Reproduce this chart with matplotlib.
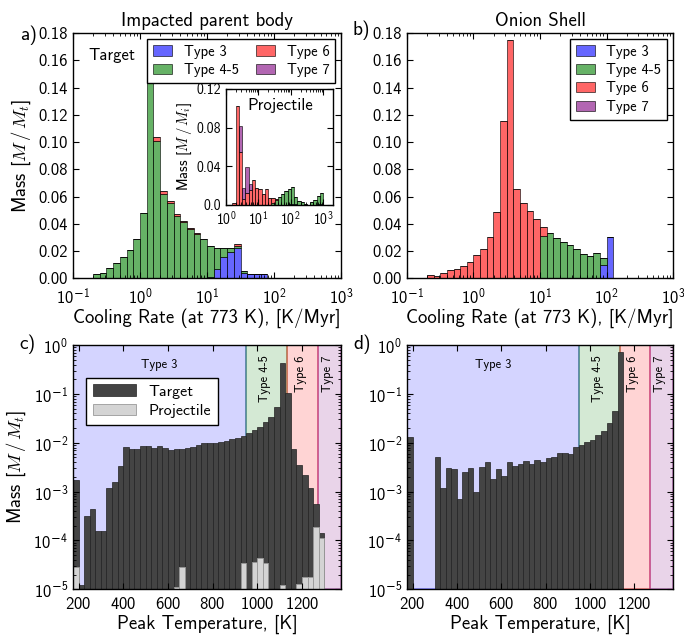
import numpy as np
import matplotlib
matplotlib.use('Agg')
import matplotlib.pyplot as plt
from matplotlib.ticker import LogLocator, NullFormatter, FuncFormatter

plt.rcParams['font.family'] = 'cmss10'
plt.rcParams['mathtext.fontset'] = 'custom'
plt.rcParams['mathtext.rm'] = 'cmss10'
plt.rcParams['mathtext.sf'] = 'DejaVu Sans'
plt.rcParams['mathtext.it'] = 'cmmi10'
plt.rcParams['mathtext.bf'] = 'cmb10'
plt.rcParams['axes.formatter.use_mathtext'] = True
plt.rcParams['xtick.direction'] = 'in'
plt.rcParams['ytick.direction'] = 'in'
plt.rcParams['xtick.top'] = True
plt.rcParams['ytick.right'] = True
plt.rcParams['xtick.major.size'] = 4
plt.rcParams['ytick.major.size'] = 4
plt.rcParams['xtick.minor.size'] = 2
plt.rcParams['ytick.minor.size'] = 2
plt.rcParams['axes.linewidth'] = 1.0

# --- Daten: Abkuehlraten (log10 Bin-Start, Breite 0.1 dex) ---
rate_bins = [-1.0, -0.9, -0.8, -0.7, -0.6, -0.5, -0.4, -0.3, -0.2, -0.1,
             0.0, 0.1, 0.2, 0.3, 0.4, 0.5, 0.6, 0.7, 0.8, 0.9,
             1.0, 1.1, 1.2, 1.3, 1.4, 1.5, 1.6, 1.7, 1.8, 1.9, 2.0]

# a) Impacted parent body, Target
a_type3 = [0, 0, 0, 0, 0, 0, 0, 0, 0, 0,
           0, 0, 0, 0, 0, 0, 0, 0, 0, 0,
           0.001, 0.0065, 0.0155, 0.019, 0.022, 0.004, 0.003, 0.003, 0.003, 0, 0]
a_type45 = [0, 0, 0, 0.003, 0.0042, 0.0075, 0.011, 0.0155, 0.021, 0.029,
            0.048, 0.147, 0.101, 0.062, 0.055, 0.046, 0.041, 0.036, 0.0325, 0.0285,
            0.0225, 0.0155, 0.0065, 0.003, 0.002, 0.001, 0, 0, 0, 0, 0]
a_type6 = [0, 0, 0, 0, 0, 0, 0, 0, 0, 0,
           0, 0.006, 0.003, 0.002, 0.0015, 0.0015, 0.001, 0.001, 0.0008, 0.0005,
           0, 0, 0, 0, 0.001, 0, 0, 0, 0, 0, 0]
a_type7 = [0] * 31

# b) Onion shell
b_type3 = [0] * 29 + [0.0097, 0.0306]
b_type45 = [0] * 20 + [0.031, 0.0333, 0.0294, 0.0265, 0.0245, 0.0215, 0.0176,
                       0.0167, 0.0189, 0.0055, 0]
b_type6 = [0, 0, 0, 0.0025, 0.0015, 0.0037, 0.0062, 0.0068, 0.0092, 0.012,
           0.017, 0.0218, 0.0305, 0.0485, 0.1155, 0.1748, 0.0656, 0.0556, 0.0495, 0.0435,
           0.007, 0, 0, 0, 0, 0, 0, 0, 0, 0, 0]
b_type7 = [0] * 31

# Inset: Projektil (log10 Bin-Start 0.0 .. 2.9)
in_bins = [0.0, 0.1, 0.2, 0.3, 0.4, 0.5, 0.6, 0.7, 0.8, 0.9,
           1.0, 1.1, 1.2, 1.3, 1.4, 1.5, 1.6, 1.7, 1.8, 1.9,
           2.0, 2.1, 2.2, 2.3, 2.4, 2.5, 2.6, 2.7, 2.8, 2.9]
in_type3 = [0] * 19 + [0.001, 0.0015, 0.001, 0, 0, 0, 0, 0, 0, 0.001, 0.001]
in_type45 = [0] * 14 + [0.002, 0.005, 0.008, 0.011, 0.014, 0.016, 0.0175, 0.007,
                        0.004, 0.003, 0.001, 0, 0.003, 0.005, 0.008, 0.011]
in_type6 = [0, 0, 0.002, 0.102, 0.055, 0.006, 0.012, 0.016, 0.026, 0.018,
            0.017, 0.011, 0.017, 0.007, 0.005, 0.001] + [0] * 14
in_type7 = [0, 0, 0, 0, 0.027, 0.012, 0.027, 0.006] + [0] * 22

# --- Daten: Peak-Temperatur (Bin-Start in K, Breite 25 K) ---
temp_bins = [175 + 25 * i for i in range(48)]
c_target = [1.7e-3, 1.2e-5, 3.2e-4, 4.5e-4, 1.55e-4, 1.55e-4, 1.2e-3, 1.55e-3, 3.3e-3, 8.2e-3,
            7.3e-3, 7.6e-3, 8.6e-3, 8.4e-3, 7.9e-3, 8.4e-3, 7.8e-3, 7.1e-3, 7.4e-3, 7.6e-3,
            7.9e-3, 8.2e-3, 8.9e-3, 1.0e-2, 1.0e-2, 9.8e-3, 1.03e-2, 1.1e-2, 1.2e-2, 1.25e-2,
            1.38e-2, 1.6e-2, 1.85e-2, 2.1e-2, 2.65e-2, 3.4e-2, 5.3e-2, 0.42, 0.107, 7.6e-3,
            3.5e-3, 2.2e-3, 1.2e-3, 5.6e-4, 1.4e-4, 0, 0, 0]
c_proj = [2.9e-5, 0, 0, 0, 0, 0, 0, 0, 0, 0,
          0, 0, 0, 0, 0, 0, 0, 0, 1.1e-5, 2.8e-5,
          0, 0, 0, 0, 0, 0, 0, 0, 0, 0,
          3.4e-5, 0, 3.7e-5, 4.3e-5, 3.5e-5, 0, 0, 1.25e-5, 0, 0,
          1.3e-5, 1.8e-5, 1.8e-5, 1.9e-4, 1.15e-4, 0, 0, 0]
d_target = [1.3e-2, 0, 0, 0, 0, 5.2e-3, 1.2e-3, 3.0e-3, 2.9e-3, 7.2e-4,
            2.5e-3, 3.0e-3, 9.7e-4, 3.2e-3, 4.1e-3, 1.8e-3, 2.9e-3, 2.1e-3, 4.0e-3, 3.3e-3,
            3.6e-3, 4.3e-3, 3.7e-3, 4.4e-3, 4.1e-3, 4.8e-3, 5.1e-3, 6.1e-3, 6.3e-3, 5.9e-3,
            8.2e-3, 9.0e-3, 1.05e-2, 1.15e-2, 1.45e-2, 1.75e-2, 2.5e-2, 4.4e-2, 0.73, 0,
            0, 0, 0, 0, 0, 0, 0, 0]

type_names = ['Type 3', 'Type 4-5', 'Type 6', 'Type 7']
type_colors = ['b', 'g', 'r', 'purple']
type_edges = [175, 950, 1135, 1270, 1375]


def pow10(v, pos):
    # Zehnerpotenz, Minuszeichen aus DejaVu (cmss10 hat keins)
    e = int(round(np.log10(v)))
    if e < 0:
        return r'$10^{\mathsf{-}%d}$' % (-e)
    return r'$10^{%d}$' % e


def stacked_hist(ax, logbins, parts, labels=True):
    left = 10 ** np.array(logbins)
    width = 10 ** (np.array(logbins) + 0.1) - left
    bottom = np.zeros(len(logbins))
    for vals, c, name in zip(parts, type_colors, type_names):
        vals = np.array(vals, dtype=float)
        ax.bar(left, vals, width=width, bottom=bottom, align='edge', color=c,
               alpha=0.6, edgecolor='k', linewidth=0.7,
               label=name if labels else None)
        bottom += vals


def log_ticks(axis):
    axis.set_major_locator(LogLocator(base=10, numticks=10))
    axis.set_major_formatter(FuncFormatter(pow10))
    axis.set_minor_locator(LogLocator(base=10, subs=np.arange(2, 10), numticks=20))
    axis.set_minor_formatter(NullFormatter())


def rate_axes(ax):
    ax.set_xscale('log')
    ax.set_xlim(0.1, 1000)
    ax.set_ylim(0, 0.18)
    ax.set_yticks(np.arange(0, 0.181, 0.02))
    ax.set_yticklabels(['%.2f' % v for v in np.arange(0, 0.181, 0.02)])
    log_ticks(ax.xaxis)
    ax.tick_params(labelsize=12)
    ax.tick_params(axis='x', pad=6)
    ax.set_xlabel('Cooling Rate (at 773 K), [K/Myr]', fontsize=13.5, labelpad=1)


def temp_axes(ax, target, proj=None):
    for lo, hi, c in zip(type_edges[:-1], type_edges[1:], type_colors):
        rgb = matplotlib.colors.to_rgb(c)
        ax.axvspan(lo, hi, facecolor=rgb + (0.17,), edgecolor=rgb + (0.35,),
                   linewidth=1.3, zorder=0)
    t = np.array(target)
    x = np.array(temp_bins)
    m = t > 0
    ax.bar(x[m], t[m], width=25, align='edge', color='#444444',
           edgecolor='#222222', linewidth=0.5, label='Target')
    if proj is not None:
        p = np.array(proj)
        m = p > 0
        ax.bar(x[m], p[m], width=25, align='edge', color='#d4d4d4',
               edgecolor='#999999', linewidth=0.6, label='Projectile')
    ax.set_yscale('log')
    ax.set_ylim(1e-5, 1)
    ax.set_xlim(175, 1375)
    ax.set_xticks([200, 400, 600, 800, 1000, 1200])
    log_ticks(ax.yaxis)
    ax.tick_params(labelsize=12)
    ax.tick_params(axis='x', pad=5)
    ax.set_xlabel('Peak Temperature, [K]', fontsize=13.5, labelpad=2)
    # Beschriftung der Typ-Bereiche
    ax.text(0.5 * (type_edges[0] + type_edges[1]), 0.52, 'Type 3',
            ha='center', va='top', fontsize=9)
    for i in range(1, 4):
        ax.text(0.5 * (type_edges[i] + type_edges[i + 1]) - 8, 0.62, type_names[i],
                ha='center', va='top', rotation=90, fontsize=9)


fig = plt.figure(figsize=(6.84, 6.36), dpi=100)

# a)
ax_a = fig.add_axes([0.1067, 0.5624, 0.392, 0.3857])
stacked_hist(ax_a, rate_bins, [a_type3, a_type45, a_type6, a_type7])
rate_axes(ax_a)
ax_a.set_ylabel(r'Mass [$M\,/\,M_t$]', fontsize=13.5)
ax_a.set_title('Impacted parent body', fontsize=13.5, pad=5)
ax_a.text(0.056, 0.94, 'Target', transform=ax_a.transAxes, ha='left', va='top',
          fontsize=12)
leg = ax_a.legend(ncol=2, loc='upper right', fontsize=10.5, handlelength=1.3,
                  columnspacing=1.2, fancybox=False, framealpha=1,
                  borderaxespad=0.4, handletextpad=0.8, labelspacing=0.3)
leg.get_frame().set_edgecolor('k')
leg.get_frame().set_linewidth(1.0)

# Inset Projektil
ax_in = fig.add_axes([0.3304, 0.6777, 0.1564, 0.1824])
stacked_hist(ax_in, in_bins, [in_type3, in_type45, in_type6, in_type7], labels=False)
ax_in.set_xscale('log')
ax_in.set_xlim(1, 2000)
ax_in.set_ylim(0, 0.12)
ax_in.set_yticks([0, 0.04, 0.08, 0.12])
ax_in.set_yticklabels(['0.0', '0.04', '0.08', '0.12'])
log_ticks(ax_in.xaxis)
ax_in.tick_params(labelsize=10)
ax_in.tick_params(axis='x', pad=4)
ax_in.set_ylabel(r'Mass [$M\,/\,M_i$]', fontsize=10.5, labelpad=2)
ax_in.text(0.2, 0.92, 'Projectile', transform=ax_in.transAxes, ha='left', va='top',
           fontsize=12)

# b)
ax_b = fig.add_axes([0.595, 0.5624, 0.389, 0.3857])
stacked_hist(ax_b, rate_bins, [b_type3, b_type45, b_type6, b_type7])
rate_axes(ax_b)
ax_b.set_title('Onion Shell', fontsize=13.5, pad=5)
leg = ax_b.legend(loc='upper right', fontsize=10.5, handlelength=1.3,
                  fancybox=False, framealpha=1, borderaxespad=0.4,
                  handletextpad=0.8, labelspacing=0.3)
leg.get_frame().set_edgecolor('k')
leg.get_frame().set_linewidth(1.0)

# c)
ax_c = fig.add_axes([0.1067, 0.0734, 0.392, 0.384])
temp_axes(ax_c, c_target, c_proj)
ax_c.set_ylabel(r'Mass [$M\,/\,M_t$]', fontsize=13.5)
leg = ax_c.legend(loc='upper left', bbox_to_anchor=(0.05, 0.865), borderaxespad=0,
                  fontsize=11.5, handlelength=2.7, fancybox=False, framealpha=1,
                  handletextpad=0.8, labelspacing=0.35)
leg.get_frame().set_edgecolor('k')
leg.get_frame().set_linewidth(1.0)

# d)
ax_d = fig.add_axes([0.595, 0.0734, 0.389, 0.384])
temp_axes(ax_d, d_target)

# Panel-Buchstaben
fig.text(0.029, 0.937, 'a)', fontsize=14)
fig.text(0.516, 0.945, 'b)', fontsize=14)
fig.text(0.029, 0.452, 'c)', fontsize=14)
fig.text(0.516, 0.452, 'd)', fontsize=14)

fig.savefig('out.png', dpi=100)
